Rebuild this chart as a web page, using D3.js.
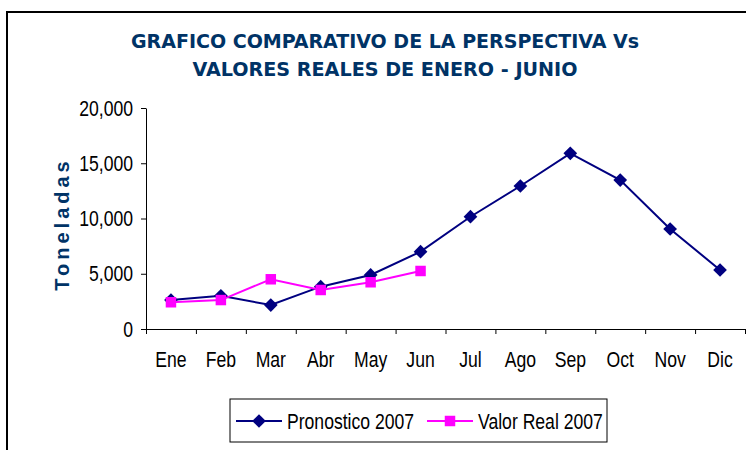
<!DOCTYPE html>
<html>
<head>
<meta charset="utf-8">
<script src="https://cdn.jsdelivr.net/npm/d3@7"></script>
<style>
  body { margin: 0; background: #fff; }
  svg { display: block; }
  .axis path, .axis line { stroke: #000; }
</style>
</head>
<body>
<div id="chart-area"></div>
<script>
// chart data
var months = ["Ene", "Feb", "Mar", "Abr", "May", "Jun", "Jul", "Ago", "Sep", "Oct", "Nov", "Dic"];
var pronostico = [2620, 3010, 2170, 3830, 4890, 7000, 10160, 12940, 15900, 13480, 9050, 5340];
var valorReal = [2420, 2620, 4500, 3530, 4230, 5250];
var yTicks = [0, 5000, 10000, 15000, 20000];
var titleLines = ["GRAFICO COMPARATIVO DE LA PERSPECTIVA Vs", "VALORES REALES DE ENERO - JUNIO"];
var seriesNames = ["Pronostico 2007", "Valor Real 2007"];

var W = 746, H = 450;
var margin = { left: 146, right: 1, top: 108, bottom: 121 };
var width = W - margin.left - margin.right;
var height = H - margin.top - margin.bottom;

// the original text is an Arial Narrow look: squeeze Liberation Sans sideways
var narrow = 0.8;
var tickFont = "'Liberation Sans', Arial, sans-serif";
var tickSize = "22px";

var svg = d3.select("#chart-area")
  .append("svg")
  .attr("width", W)
  .attr("height", H);

// outer frame (right and bottom run off the picture)
svg.append("rect")
  .attr("x", 7).attr("y", 12)
  .attr("width", W + 20).attr("height", H + 20)
  .attr("fill", "none")
  .attr("stroke", "#000")
  .attr("stroke-width", 2);

// title
svg.selectAll(".title")
  .data(titleLines)
  .enter()
  .append("text")
    .attr("class", "title")
    .attr("x", 385)
    .attr("y", function(d, i){ return 48 + i * 28; })
    .attr("text-anchor", "middle")
    .attr("font-family", "'DejaVu Sans Condensed', 'DejaVu Sans', sans-serif")
    .attr("font-weight", "bold")
    .attr("font-size", "20px")
    .attr("fill", "#003366")
    .attr("textLength", function(d, i){ return i === 0 ? 508 : 385; })
    .attr("lengthAdjust", "spacingAndGlyphs")
    .text(function(d){ return d; });

// y axis label
svg.append("text")
  .attr("transform", "translate(69, 224) rotate(-90)")
  .attr("text-anchor", "middle")
  .attr("font-family", "'Liberation Sans', Arial, sans-serif")
  .attr("font-weight", "bold")
  .attr("font-size", "20px")
  .attr("letter-spacing", "4px")
  .attr("fill", "#003366")
  .text("Toneladas");

var g = svg.append("g")
  .attr("transform", "translate(" + margin.left + "," + margin.top + ")");

var x = d3.scaleBand()
  .domain(months)
  .range([0, width]);

var xEdge = d3.scaleLinear()
  .domain([0, months.length])
  .range([0, width]);

var y = d3.scaleLinear()
  .domain([0, 20000])
  .range([height, 0]);

// y axis
var yAxis = g.append("g")
  .attr("class", "axis")
  .call(d3.axisLeft(y)
    .tickValues(yTicks)
    .tickSize(5)
    .tickSizeOuter(0)
    .tickPadding(8)
    .tickFormat(d3.format(",")));
yAxis.selectAll("text")
  .attr("font-family", tickFont)
  .attr("font-size", tickSize)
  .attr("fill", "#000")
  .attr("x", -13 / narrow)
  .attr("transform", "scale(" + narrow + ",1)");

// x axis: boundary ticks
g.append("g")
  .attr("class", "axis")
  .attr("transform", "translate(0," + height + ")")
  .call(d3.axisBottom(xEdge)
    .tickValues(d3.range(months.length + 1))
    .tickSize(5)
    .tickSizeOuter(0)
    .tickFormat(""));

// x axis: month labels
var xAxis = g.append("g")
  .attr("transform", "translate(0," + height + ")")
  .call(d3.axisBottom(x).tickSize(0).tickPadding(22));
xAxis.select(".domain").remove();
xAxis.selectAll("text")
  .attr("font-family", tickFont)
  .attr("font-size", tickSize)
  .attr("fill", "#000")
  .attr("transform", "scale(" + narrow + ",1)");

var line = d3.line()
  .x(function(d, i){ return x(months[i]) + x.bandwidth() / 2; })
  .y(function(d){ return y(d); });

var navy = "#000080", magenta = "#FF00FF";

var diamond = d3.symbol().type(d3.symbolDiamond2).size(120);
var square = d3.symbol().type(d3.symbolSquare).size(110);

// pronostico
g.append("path")
  .datum(pronostico)
  .attr("d", line)
  .attr("fill", "none")
  .attr("stroke", navy)
  .attr("stroke-width", 2);

g.selectAll(".pt-pron")
  .data(pronostico)
  .enter()
  .append("path")
    .attr("class", "pt-pron")
    .attr("d", diamond)
    .attr("transform", function(d, i){
      return "translate(" + (x(months[i]) + x.bandwidth() / 2) + "," + y(d) + ")";
    })
    .attr("fill", navy);

// valor real
g.append("path")
  .datum(valorReal)
  .attr("d", line)
  .attr("fill", "none")
  .attr("stroke", magenta)
  .attr("stroke-width", 2);

g.selectAll(".pt-real")
  .data(valorReal)
  .enter()
  .append("path")
    .attr("class", "pt-real")
    .attr("d", square)
    .attr("transform", function(d, i){
      return "translate(" + (x(months[i]) + x.bandwidth() / 2) + "," + y(d) + ")";
    })
    .attr("fill", magenta);

// legend
var legend = svg.append("g").attr("transform", "translate(230,399)");
legend.append("rect")
  .attr("width", 377).attr("height", 43)
  .attr("fill", "#fff")
  .attr("stroke", "#000")
  .attr("stroke-width", 1);

var legendItems = [
  { name: seriesNames[0], color: navy, symbol: diamond, x0: 6 },
  { name: seriesNames[1], color: magenta, symbol: square, x0: 197 }
];

var item = legend.selectAll(".item")
  .data(legendItems)
  .enter()
  .append("g")
    .attr("class", "item")
    .attr("transform", function(d){ return "translate(" + d.x0 + ",22)"; });

item.append("line")
  .attr("x1", 0).attr("x2", 46)
  .attr("stroke", function(d){ return d.color; })
  .attr("stroke-width", 2);

item.append("path")
  .attr("d", function(d){ return d.symbol(); })
  .attr("transform", "translate(23,0)")
  .attr("fill", function(d){ return d.color; });

item.append("text")
  .attr("x", 51 / narrow)
  .attr("y", 8)
  .attr("transform", "scale(" + narrow + ",1)")
  .attr("font-family", tickFont)
  .attr("font-size", tickSize)
  .attr("fill", "#000")
  .text(function(d){ return d.name; });
</script>
</body>
</html>
